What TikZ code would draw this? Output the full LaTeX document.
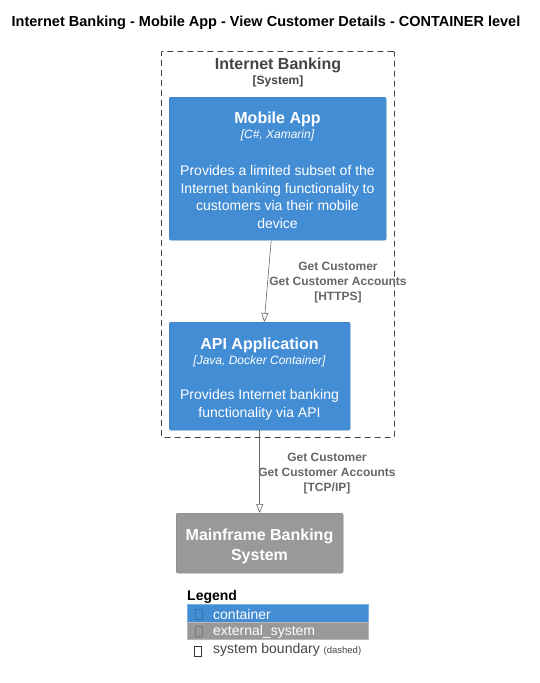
\documentclass[tikz,border=0pt]{standalone}
\usepackage{fontspec}
\setmainfont{Liberation Sans}
\usetikzlibrary{arrows.meta,positioning}
\definecolor{contblue}{HTML}{438DD5}
\definecolor{extgray}{HTML}{999999}
\definecolor{bndgray}{HTML}{444444}
\definecolor{relgray}{HTML}{666666}
\newcommand{\fs}[2]{\fontsize{#1}{#2}\selectfont}
\tikzset{
  contbox/.style={draw=contblue!85!black, fill=contblue, rounded corners=2pt, anchor=north west, inner sep=0pt},
  extbox/.style={draw=extgray!85!black, fill=extgray, rounded corners=2pt, anchor=north west, inner sep=0pt},
  bnd/.style={draw=bndgray, dashed, dash pattern=on 6pt off 4pt, rounded corners=1pt, anchor=north west, inner sep=0pt, line width=0.8pt},
  wtitle/.style={text=white, font=\bfseries\fs{16}{20}, align=center, inner sep=0pt},
  wtech/.style={text=white, font=\itshape\fs{12}{15}, align=center, inner sep=0pt},
  wdesc/.style={text=white, font=\fs{14}{17.7}, align=center, inner sep=0pt},
  rlabel/.style={text=relgray, font=\bfseries\fs{12}{15}, align=center, inner sep=0pt},
  rel/.style={draw=relgray, line width=0.6pt, -{Triangle[open, length=9pt, width=7pt]}},
  legtext/.style={font=\fs{14}{17}, anchor=west, inner sep=0pt, text=white},
  tofu/.style={draw, line width=0.5pt, minimum width=7pt, minimum height=10pt, inner sep=0pt}
}
\begin{document}
\begin{tikzpicture}[x=1pt,y=-1pt]
\useasboundingbox (0,0) rectangle (539,683);
% title
\node[font=\bfseries\fs{14.5}{17}, inner sep=0pt] (title) at (266,22.5) {Internet Banking - Mobile App - View Customer Details - CONTAINER level};
% boundary
\node[bnd, minimum width=233pt, minimum height=386pt] (boundary) at (161,51) {};
\node[text=bndgray, font=\bfseries\fs{16}{20}, inner sep=0pt] (bndname) at (278,65) {Internet Banking};
\node[text=bndgray, font=\bfseries\fs{12}{14}, inner sep=0pt] (bndtype) at (278,81.5) {[System]};
% mobile app
\node[contbox, minimum width=217pt, minimum height=143pt] (mob) at (169,97) {};
\node[wtitle] (mobt) at (277.5,119) {Mobile App};
\node[wtech] (mobk) at (277.5,135.5) {[C\#, Xamarin]};
\node[wdesc] (mobd) at (277.5,197) {Provides a limited subset of the\\Internet banking functionality to\\customers via their mobile\\device};
% api
\node[contbox, minimum width=181pt, minimum height=108pt] (api) at (169,322) {};
\node[wtitle] (apit) at (259.5,345) {API Application};
\node[wtech] (apik) at (259.5,361.5) {[Java, Docker Container]};
\node[wdesc] (apid) at (259.5,405) {Provides Internet banking\\functionality via API};
% mainframe
\node[extbox, minimum width=167pt, minimum height=60pt] (mf) at (176,513) {};
\node[wtitle] (mft) at (259.5,546) {Mainframe Banking\\System};
% relations
\draw[rel] ([xshift=-6.5pt]mob.south) -- ([xshift=4.5pt]api.north);
\node[rlabel] (l1) at (338,283) {Get Customer\\Get Customer Accounts\\{}[HTTPS]};
\draw[rel] (api.south) -- (mf.north);
\node[rlabel] (l2) at (327,474) {Get Customer\\Get Customer Accounts\\{}[TCP/IP]};
% legend
\node[font=\bfseries\fs{14}{17}, anchor=west, inner sep=0pt] (legt) at (187,597) {Legend};
\node[fill=contblue, draw=contblue!70!white, minimum width=181pt, minimum height=18pt, anchor=north west, inner sep=0pt] (lc) at (187,604) {};
\node[fill=extgray, draw=extgray!70!white, minimum width=181pt, minimum height=17pt, anchor=north west, inner sep=0pt] (le) at (187,622) {};
\node[tofu, draw=contblue!80!black] (tc) at (198.5,614.5) {};
\node[tofu, draw=extgray!80!black] (te) at (198.5,631) {};
\node[tofu, draw=black!80] (tb) at (197.5,651) {};
\node[legtext] (lct) at (213,614) {container};
\node[legtext] (let) at (213,631.5) {external\_system};
\node[legtext, text=bndgray] (lbt) at (213,650) {system boundary \fs{9.5}{11}(dashed)};
\end{tikzpicture}
\end{document}
